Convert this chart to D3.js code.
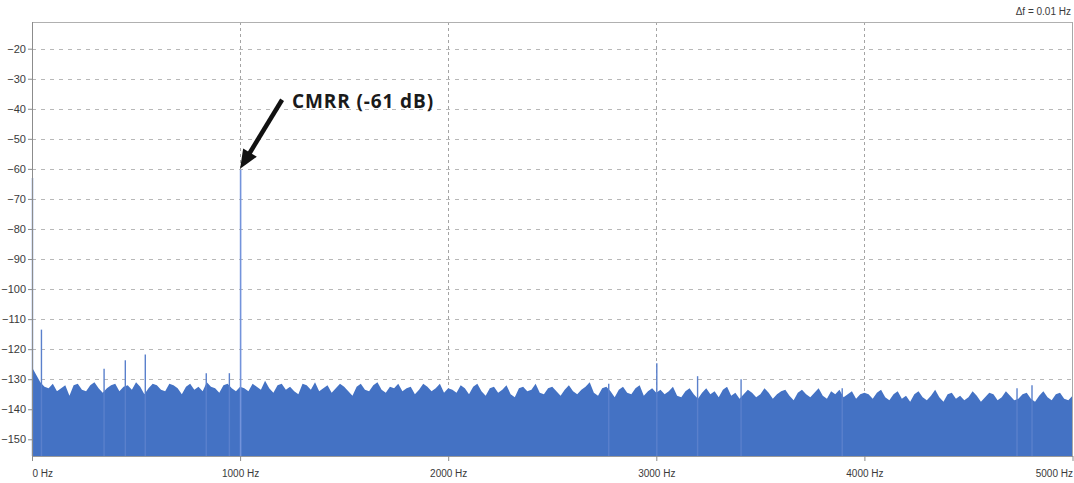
<!DOCTYPE html>
<html><head><meta charset="utf-8">
<script src="https://cdn.jsdelivr.net/npm/d3@7"></script>
<style>html,body{margin:0;padding:0;background:#fff;} svg{display:block;}</style>
</head><body>
<svg id="chart" width="1074" height="483"></svg>
<script>
// ---- data ----
const noiseStartHz = 0;
const noiseStepHz = 20;
const noiseDb = [
 -126,-128.5,-131,-132.5,-133,-131.5,-134,-133,-132,-135.5,
 -132,-131.5,-133.5,-134,-132,-131,-133,-134.5,-133,-132,
 -131.5,-134,-132.5,-132,-133.5,-131,-132.5,-135,-133,-131.5,
 -132,-133.5,-134,-131.5,-132,-133,-135,-132.5,-131.5,-133.5,
 -132.5,-134,-131,-132.5,-133,-134.5,-132,-131.5,-133,-134,
 -132.5,
 -133,-134,-131.5,-132.5,-133.5,-130.5,-133,-134.5,-132,-131.5,
 -133.5,-132.5,-134,-135,-131.5,-132,-133.5,-131,-134,-133,
 -132,-134.5,-133,-131.5,-132.5,-134,-135.5,-132.5,-131.5,-133.5,
 -134,-132,-131,-133.5,-134.5,-132.5,-133,-131.5,-134,-133,
 -132.5,-135,-133.5,-131.5,-132.5,-134,-133,-131.5,-134.5,-133,
 -133.5,-134.5,-132,-133,-135,-132.5,-131.5,-134,-135.5,-133,
 -132.5,-134.5,-133.5,-132,-135,-136,-133,-132.5,-134,-133.5,
 -131.5,-134.5,-135,-133,-132.5,-134,-135.5,-133.5,-132,-134,
 -135,-133.5,-132.5,-131,-134.5,-135.5,-133,-132.5,-134,-136,
 -133.5,-132.5,-134.5,-135,-133,-132,-135.5,-134,-133,-134.5,
 -133.5,-135,-134,-132.5,-135.5,-136,-134,-133,-135,-136.5,
 -134.5,-133,-135,-134,-136,-133.5,-132.5,-135.5,-134.5,-136.5,
 -135,-133.5,-134.5,-136,-135,-133,-134.5,-136.5,-135,-134,
 -133.5,-135.5,-137,-134.5,-133.5,-135,-136,-134.5,-133,-135.5,
 -136.5,-134,-135,-133.5,-136,-135,-134,-136.5,-135,-134.5,
 -135,-136.5,-134.5,-133.5,-136,-137,-135,-134,-136.5,-135.5,
 -137.5,-135,-134,-136,-137,-135.5,-133.5,-136,-137.5,-135,
 -134.5,-136.5,-135.5,-137,-136,-134,-135.5,-137.5,-136,-134.5,
 -135,-137,-136,-134,-135.5,-137,-136.5,-135,-134.5,-136.5,
 -137.5,-135.5,-134,-136,-137,-135,-134.5,-136.5,-137,-135.5
];
const spikeHz = [0, 43, 344, 446, 542, 835, 946, 1000, 2769, 3000, 3196, 3405, 3891, 4731, 4803];
const spikeDb = [-63, -113.5, -126.5, -123.7, -121.8, -128, -128, -60.3, -131.5, -124.7, -129, -130, -133, -133, -132];
const yTicks = [-20,-30,-40,-50,-60,-70,-80,-90,-100,-110,-120,-130,-140,-150];
const xTicks = [0,1000,2000,3000,4000,5000];
const xTickLabels = ["0 Hz","1000 Hz","2000 Hz","3000 Hz","4000 Hz","5000 Hz"];
const peakHz = 1000;
const peakDb = -60.3;
const annotationText = "CMRR (-61 dB)";
const resolutionText = "\u0394f = 0.01 Hz";

(function () {
// ---- layout ----
const pLeft = 32, pRight = 1072.5, pTop = 22, pBottom = 456;
const svg = d3.select("#chart");
const x = d3.scaleLinear().domain([0, 5000]).range([pLeft, pRight]);
const y = d3.scaleLinear().domain([-150, -20]).range([439.3, 48.7]);
const blue = "#4472c4";

// grid
const g = svg.append("g");
g.selectAll("line.hg").data(yTicks.filter(d => d > -150)).join("line")
  .attr("x1", pLeft).attr("x2", pRight)
  .attr("y1", d => Math.round(y(d)) + 0.5).attr("y2", d => Math.round(y(d)) + 0.5)
  .attr("stroke", "#b8b8b8").attr("stroke-width", 1).attr("stroke-dasharray", "4,5");
g.selectAll("line.vg").data(xTicks.filter(d => d > 0 && d < 5000)).join("line")
  .attr("x1", d => Math.round(x(d)) + 0.5).attr("x2", d => Math.round(x(d)) + 0.5)
  .attr("y1", pTop).attr("y2", pBottom)
  .attr("stroke", "#a4a4a4").attr("stroke-width", 1).attr("stroke-dasharray", "3,3");

// noise floor area
const area = d3.area()
  .x((d, i) => x(noiseStartHz + i * noiseStepHz))
  .y0(pBottom)
  .y1(d => y(d));
svg.append("path").datum(noiseDb).attr("d", area).attr("fill", blue);

// spikes
const spikes = spikeHz.map((f, i) => ({f, db: spikeDb[i]}));
svg.selectAll("line.spike").data(spikes).join("line")
  .attr("x1", d => x(d.f) + 0.5).attr("x2", d => x(d.f) + 0.5)
  .attr("y1", pBottom).attr("y2", d => y(d.db))
  .attr("stroke", d => d.f === peakHz ? "#7393db" : "#5a80cc")
  .attr("stroke-width", d => d.f === peakHz ? 1.6 : 1.4);

// frame
svg.append("line").attr("x1", pLeft).attr("x2", pRight).attr("y1", pTop + 0.5).attr("y2", pTop + 0.5)
  .attr("stroke", "#b0b0b0");
svg.append("line").attr("x1", pRight).attr("x2", pRight).attr("y1", pTop).attr("y2", pBottom)
  .attr("stroke", "#a8a8a8");

// axes
const yAxis = svg.append("g").attr("transform", `translate(${pLeft},0)`)
  .call(d3.axisLeft(y).tickValues(yTicks).tickSize(4).tickPadding(2).tickSizeOuter(0));
yAxis.select(".domain").attr("d", `M0.5,${pTop}V${pBottom}`).attr("stroke", "#8c8c8c");
yAxis.selectAll(".tick line").attr("stroke", "#8c8c8c");
yAxis.selectAll(".tick text").attr("font-family", "Liberation Sans, Arial, sans-serif")
  .attr("font-size", 11).attr("fill", "#3a3a3a");

const xAxis = svg.append("g").attr("transform", `translate(0,${pBottom})`)
  .call(d3.axisBottom(x).tickValues(xTicks).tickFormat((d, i) => xTickLabels[i]).tickSize(5).tickPadding(9).tickSizeOuter(0));
xAxis.select(".domain").attr("stroke", "#9a9a9a");
xAxis.selectAll(".tick line").attr("stroke", "#8c8c8c");
xAxis.selectAll(".tick text").attr("font-family", "Liberation Sans, Arial, sans-serif")
  .attr("font-size", 10).attr("fill", "#3a3a3a")
  .attr("text-anchor", (d, i) => i === 0 ? "start" : (i === xTicks.length - 1 ? "end" : "middle"));

// resolution label
svg.append("text").attr("x", 1071).attr("y", 15).attr("text-anchor", "end")
  .attr("font-family", "Liberation Sans, Arial, sans-serif").attr("font-size", 10).attr("fill", "#3a3a3a")
  .text(resolutionText);

// annotation arrow
const tipX = x(peakHz), tipY = y(peakDb) - 1;
const tailX = tipX + 42, tailY = tipY - 69;
const dx = tipX - tailX, dy = tipY - tailY, len = Math.hypot(dx, dy);
const ux = dx / len, uy = dy / len, nx = -uy, ny = ux;
const headLen = 19, headW = 8;
const bx = tipX - ux * headLen, by = tipY - uy * headLen;
svg.append("line").attr("x1", tailX).attr("y1", tailY).attr("x2", bx + ux * 2).attr("y2", by + uy * 2)
  .attr("stroke", "#111").attr("stroke-width", 4.5);
svg.append("path")
  .attr("d", `M${tipX},${tipY}L${bx + nx * headW},${by + ny * headW}L${bx - nx * headW},${by - ny * headW}Z`)
  .attr("fill", "#111");
svg.append("text").attr("x", tipX + 52).attr("y", tipY - 61)
  .attr("font-family", "Open Sans, Lato, sans-serif").attr("font-weight", "bold").attr("font-size", 19)
  .attr("textLength", 141).attr("lengthAdjust", "spacing")
  .attr("fill", "#1a1a1a").text(annotationText);
})();
</script>
</body></html>
